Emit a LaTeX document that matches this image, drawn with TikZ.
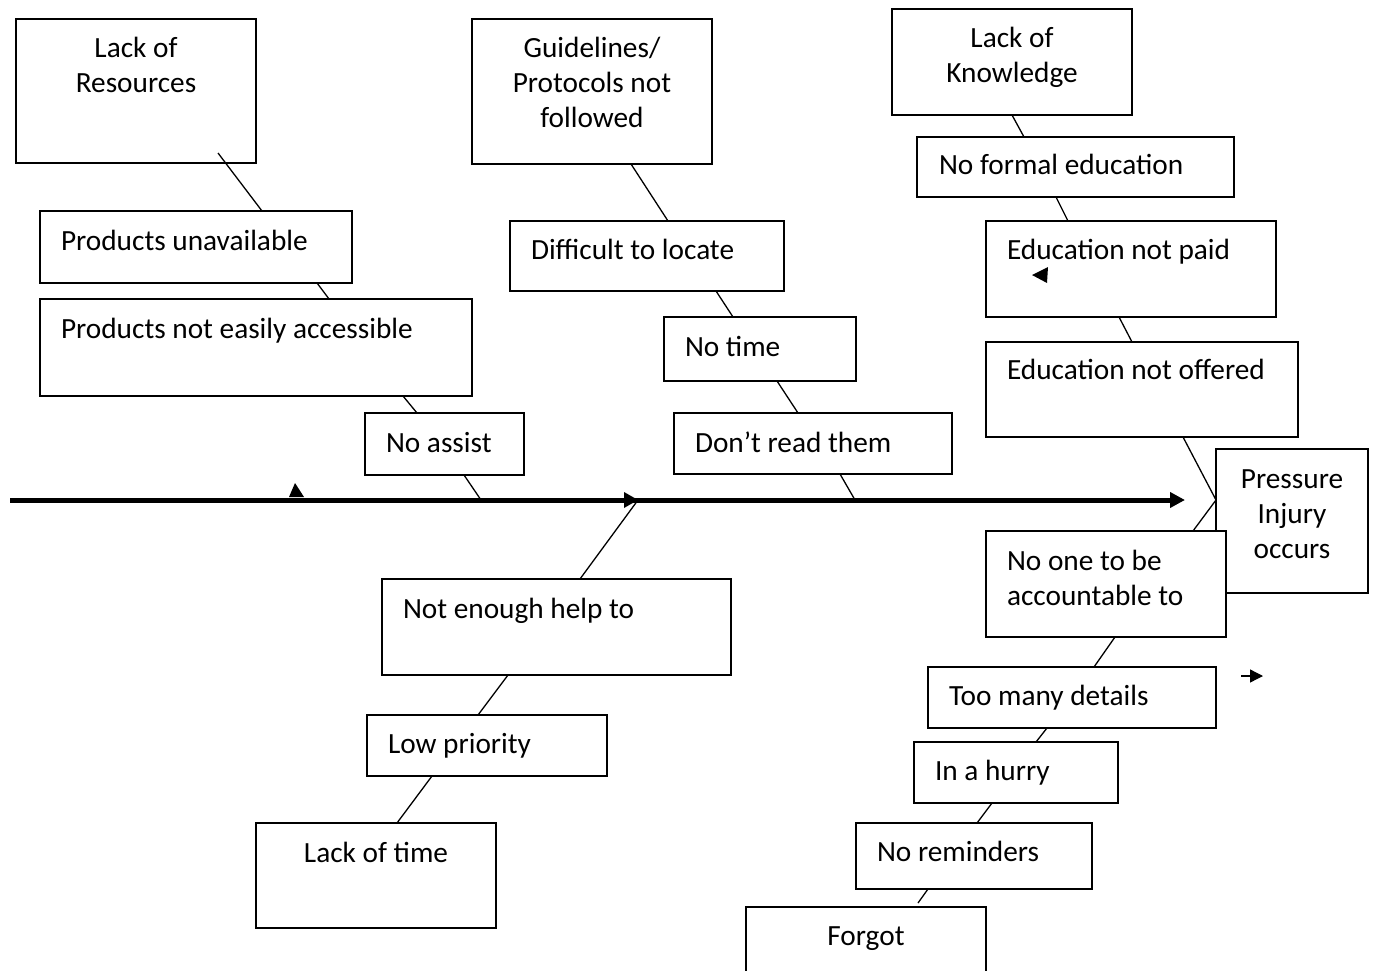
\documentclass[tikz,border=0pt]{standalone}
\usepackage{fontspec}
\setmainfont{Carlito}
\usetikzlibrary{calc,arrows.meta}
\tikzset{
  box/.style={draw, fill=white, line width=1.5pt, inner sep=0pt, outer sep=0pt, anchor=north west},
  txt/.style={font=\fontsize{29.3}{35}\selectfont, inner sep=0pt, outer sep=0pt, anchor=base west, align=left},
  ctxt/.style={txt, align=center, anchor=base},
  conn/.style={line width=1.3pt},
  spine/.style={line width=5pt},
}
\begin{document}
\begin{tikzpicture}[x=1pt,y=-1pt]
\useasboundingbox[fill=white] (0,0) rectangle (1376,971);

% ---- boxes ----
\node[box, minimum width=240pt, minimum height=144pt] (lr) at (16,19) {};
\node[box, minimum width=312pt, minimum height=72pt]  (pu) at (40,211) {};
\node[box, minimum width=432pt, minimum height=97pt]  (pn) at (40,299) {};
\node[box, minimum width=159pt, minimum height=62pt]  (na) at (365,413) {};
\node[box, minimum width=240pt, minimum height=145pt] (gp) at (472,19) {};
\node[box, minimum width=274pt, minimum height=70pt]  (dl) at (510,221) {};
\node[box, minimum width=192pt, minimum height=64pt]  (nt) at (664,317) {};
\node[box, minimum width=278pt, minimum height=61pt]  (dr) at (674,413) {};
\node[box, minimum width=240pt, minimum height=106pt] (lk) at (892,9) {};
\node[box, minimum width=317pt, minimum height=60pt]  (nf) at (917,137) {};
\node[box, minimum width=290pt, minimum height=96pt]  (ep) at (986,221) {};
\node[box, minimum width=312pt, minimum height=95pt]  (eo) at (986,342) {};
\node[box, minimum width=152pt, minimum height=144pt] (pi) at (1216,449) {};
\node[box, minimum width=240pt, minimum height=106pt] (no) at (986,531) {};
\node[box, minimum width=288pt, minimum height=61pt]  (tm) at (928,667) {};
\node[box, minimum width=204pt, minimum height=61pt]  (ih) at (914,742) {};
\node[box, minimum width=236pt, minimum height=66pt]  (nr) at (856,823) {};
\node[box, minimum width=240pt, minimum height=90pt]  (fg) at (746,907) {};
\node[box, minimum width=349pt, minimum height=96pt]  (ne) at (382,579) {};
\node[box, minimum width=240pt, minimum height=61pt]  (lp) at (367,715) {};
\node[box, minimum width=240pt, minimum height=105pt] (lt) at (256,823) {};

% ---- texts (multi-line nodes are placed by the baseline of their last line) ----
\node[ctxt] (lrT) at ($(lr.north)+(0,74)$) {Lack of\\Resources};
\node[txt]  (puT) at ($(pu.north west)+(21,39)$) {Products unavailable};
\node[txt]  (pnT) at ($(pn.north west)+(21,39)$) {Products not easily accessible};
\node[txt]  (naT) at ($(na.north west)+(21,39)$) {No assist};
\node[ctxt] (gpT) at ($(gp.north)+(0,109)$) {Guidelines/\\Protocols not\\followed};
\node[txt]  (dlT) at ($(dl.north west)+(21,38)$) {Difficult to locate};
\node[txt]  (ntT) at ($(nt.north west)+(21,39)$) {No time};
\node[txt]  (drT) at ($(dr.north west)+(21,39)$) {Don’t read them};
\node[ctxt] (lkT) at ($(lk.north)+(0,74)$) {Lack of\\Knowledge};
\node[txt]  (nfT) at ($(nf.north west)+(22,38)$) {No formal education};
\node[txt]  (epT) at ($(ep.north west)+(21,38)$) {Education not paid};
\node[txt]  (eoT) at ($(eo.north west)+(21,37)$) {Education not offered};
\node[ctxt] (piT) at ($(pi.north)+(0,109)$) {Pressure\\Injury\\occurs};
\node[txt]  (noT) at ($(no.north west)+(21,74)$) {No one to be\\accountable to};
\node[txt]  (tmT) at ($(tm.north west)+(21,38)$) {Too many details};
\node[txt]  (ihT) at ($(ih.north west)+(21,38)$) {In a hurry};
\node[txt]  (nrT) at ($(nr.north west)+(21,38)$) {No reminders};
\node[ctxt] (fgT) at ($(fg.north)+(0,38)$) {Forgot};
\node[txt]  (neT) at ($(ne.north west)+(21,39)$) {Not enough help to};
\node[txt]  (lpT) at ($(lp.north west)+(21,38)$) {Low priority};
\node[ctxt] (ltT) at ($(lt.north)+(0,39)$) {Lack of time};

% ---- spine ----
\coordinate (s0) at (10,500);
\coordinate (s1) at (1185,500);
\coordinate (mid) at (638,500);
\draw[spine, -{Triangle[length=15pt,width=15pt]}] (s0) -- (s1);
\fill (mid) -- ++(-14,-8) -- ++(0,16) -- cycle;
\fill (289,497) -- (295,483) -- (304,497) -- cycle;

% ---- connectors ----
\draw[conn] ($(lr.south west)+(202,-10)$) -- ($(pu.north west)+(222,0)$);
\draw[conn] ($(pu.south west)+(277,0)$) -- ($(pn.north west)+(289,0)$);
\draw[conn] ($(pn.south west)+(363,0)$) -- ($(na.north west)+(52,0)$);
\draw[conn] ($(na.south west)+(99,0)$) -- (481,500);
\draw[conn] ($(gp.south west)+(159,0)$) -- ($(dl.north west)+(158,0)$);
\draw[conn] ($(dl.south west)+(206,0)$) -- ($(nt.north west)+(69,0)$);
\draw[conn] ($(nt.south west)+(113,0)$) -- ($(dr.north west)+(124,0)$);
\draw[conn] ($(dr.south west)+(166,0)$) -- (855,500);
\draw[conn] ($(lk.south west)+(120,0)$) -- ($(nf.north west)+(107,0)$);
\draw[conn] ($(nf.south west)+(139,0)$) -- ($(ep.north west)+(82,0)$);
\draw[conn] ($(ep.south west)+(133,0)$) -- ($(eo.north west)+(146,0)$);
\coordinate (j) at (1216,500);
\draw[conn] ($(eo.south west)+(197,0)$) -- (j) -- ($(no.north west)+(207,0)$);
\draw[conn] ($(no.south west)+(129,0)$) -- ($(tm.north west)+(166,0)$);
\draw[conn] ($(tm.south west)+(119,0)$) -- ($(ih.north west)+(122,0)$);
\draw[conn] ($(ih.south west)+(78,0)$) -- ($(nr.north west)+(121,0)$);
\draw[conn] ($(nr.south west)+(72,0)$) -- ($(fg.north west)+(172,-4)$);
\draw[conn] (mid) -- ($(ne.north west)+(198,0)$);
\draw[conn] ($(ne.south west)+(126,0)$) -- ($(lp.north west)+(111,0)$);
\draw[conn] ($(lp.south west)+(65,0)$) -- ($(lt.north west)+(141,0)$);

% ---- stray arrowheads ----
\fill (1032,275) -- (1048,267) -- (1047,283) -- cycle;
\coordinate (a0) at (1241,676);
\coordinate (a1) at (1263,676);
\draw[line width=1.3pt, -{Triangle[length=13pt,width=13pt]}] (a0) -- (a1);
\end{tikzpicture}
\end{document}
